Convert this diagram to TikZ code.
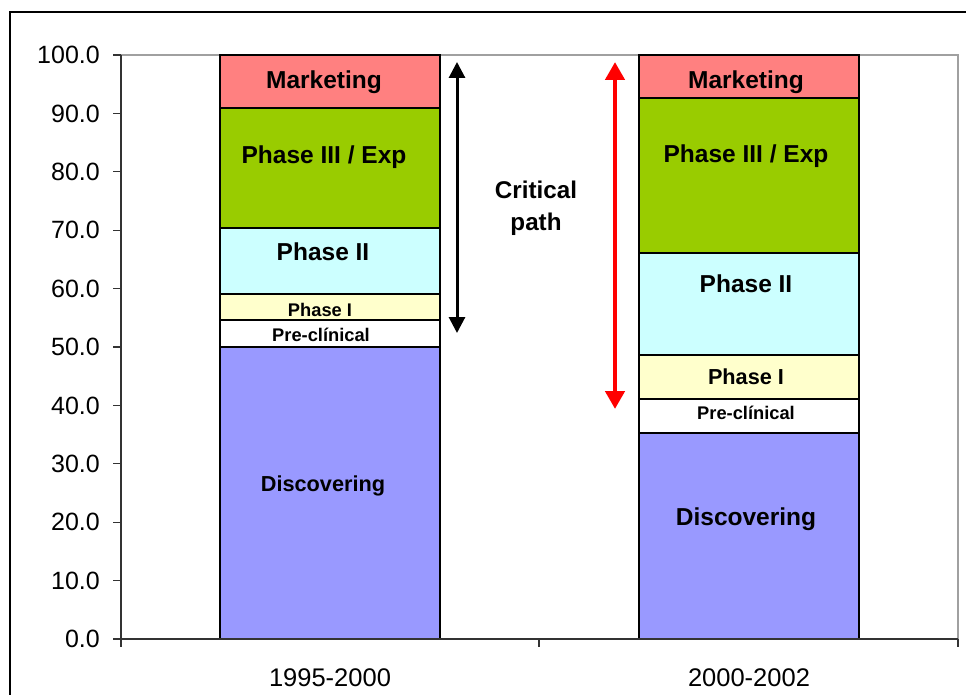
\documentclass[tikz,border=0pt]{standalone}
\usepackage{fontspec}
\setmainfont{Liberation Sans}
\usetikzlibrary{arrows.meta}
\definecolor{mkt}{HTML}{FF8080}
\definecolor{ph3}{HTML}{99CC00}
\definecolor{ph2}{HTML}{CCFFFF}
\definecolor{ph1}{HTML}{FFFFCC}
\definecolor{disc}{HTML}{9999FF}
\definecolor{framegray}{HTML}{A0A0A0}
\begin{document}
\begin{tikzpicture}[x=1pt,y=-1pt,
  seg/.style={draw=black, line width=2pt},
  lbl/.style={font=\fontsize{24.5}{26}\selectfont\bfseries, inner sep=0pt, yshift=-2.5pt},
  lbls/.style={font=\fontsize{18.3}{20}\selectfont\bfseries, inner sep=0pt, yshift=-1.5pt},
  lblm/.style={font=\fontsize{21.7}{24}\selectfont\bfseries, inner sep=0pt, yshift=-2.5pt},
  axl/.style={font=\fontsize{25}{27}\selectfont, anchor=east, inner sep=0pt},
  catl/.style={font=\fontsize{25.5}{27}\selectfont, inner sep=0pt}]
\useasboundingbox (0,0) rectangle (966,695);
% outer frame (only top and left visible)
\draw[line width=1.2pt] (10,695) -- (10,12) -- (966,12);
% plot area border
\draw[framegray, line width=1.5pt] (121,55) -- (958,55) -- (958,639);
% left bar (1995-2000)
\draw[seg, fill=disc] (220,639) rectangle (440,347);
\draw[seg, fill=white] (220,347) rectangle (440,320);
\draw[seg, fill=ph1] (220,320) rectangle (440,294);
\draw[seg, fill=ph2] (220,294) rectangle (440,228);
\draw[seg, fill=ph3] (220,228) rectangle (440,108);
\draw[seg, fill=mkt] (220,108) rectangle (440,55);
% right bar (2000-2002)
\draw[seg, fill=disc] (639,639) rectangle (859,433);
\draw[seg, fill=white] (639,433) rectangle (859,399);
\draw[seg, fill=ph1] (639,399) rectangle (859,355);
\draw[seg, fill=ph2] (639,355) rectangle (859,253);
\draw[seg, fill=ph3] (639,253) rectangle (859,98);
\draw[seg, fill=mkt] (639,98) rectangle (859,55);
% axes
\draw[line width=1.2pt, black!80] (121,55) -- (121,639) -- (958,639);
\foreach \v in {0,10,...,100} {
  \draw[line width=1.2pt, black!80] (113,{639-5.84*\v}) -- (121,{639-5.84*\v});
  \node[axl] (t\v) at (100,{639-5.84*\v}) {\v.0};
}
\foreach \x in {121,539,958} \draw[line width=1.2pt, black!80] (\x,639) -- (\x,647);
\node[catl] (c1) at (330,678) {1995-2000};
\node[catl] (c2) at (749,678) {2000-2002};
% left labels
\node[lbl] (lmkt) at (324,80) {Marketing};
\node[lbl] (lph3) at (324,155) {Phase III / Exp};
\node[lbl] (lph2) at (323,249.5) {Phase II};
\node[lbls] (lph1) at (320,308) {Phase I};
\node[lbls] (lpre) at (321,333) {Pre-clínical};
\node[lblm] (ldisc) at (323,483) {Discovering};
% right labels
\node[lbl] (rmkt) at (746,80) {Marketing};
\node[lbl] (rph3) at (746,154) {Phase III / Exp};
\node[lbl] (rph2) at (746,281.5) {Phase II};
\node[lblm] (rph1) at (746,374) {Phase I};
\node[lbls] (rpre) at (746,411) {Pre-clínical};
\node[lbl] (rdisc) at (746,517) {Discovering};
% critical path
\node[lbl, align=center, font=\fontsize{24.2}{32}\selectfont\bfseries] (cp) at (536,206) {Critical\\path};
\coordinate (ba) at (457,62);
\coordinate (bb) at (457,333);
\draw[line width=3pt, {Triangle[length=16pt,width=16pt]}-{Triangle[length=16pt,width=16pt]}] (ba) -- (bb);
\coordinate (ra) at (615,62);
\coordinate (rb) at (615,409);
\draw[red, line width=4.5pt, {Triangle[length=18pt,width=19pt]}-{Triangle[length=18pt,width=19pt]}] (ra) -- (rb);
\end{tikzpicture}
\end{document}
